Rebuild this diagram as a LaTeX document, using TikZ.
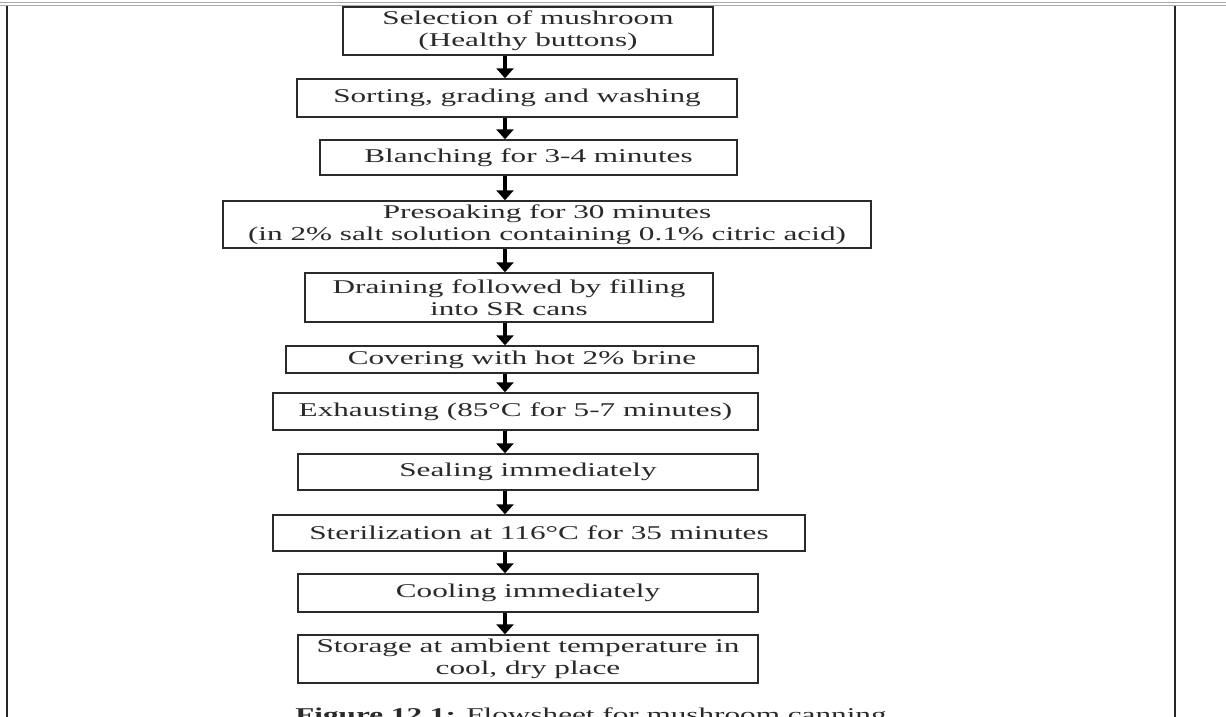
\documentclass[tikz,border=0pt]{standalone}
\usepackage{fontspec}
\setmainfont{Liberation Serif}[FakeStretch=1.6]
\usetikzlibrary{arrows.meta}
\definecolor{inkgray}{HTML}{2A2A2A}
\definecolor{framegray}{HTML}{A8A8A8}
\tikzset{
  stepbox/.style={draw=inkgray, line width=1.4pt, inner sep=0pt, align=center,
    text=inkgray, font=\fontsize{19.5}{22}\selectfont},
  flowarrow/.style={draw=black, line width=3.4pt,
    -{Triangle[width=17pt,length=10pt]}, shorten >=0pt},
  framerule/.style={line width=2.4pt, draw=black!85}
}
\begin{document}
\begin{tikzpicture}[x=1pt,y=1pt]
  \useasboundingbox (0,0) rectangle (1226,-717);
  \clip (0,0) rectangle (1226,-717);
  \fill[white] (0,0) rectangle (1226,-717);

  % page frame
  \draw[framegray, line width=1pt] (0,-3) -- (1226,-3);
  \draw[framegray, line width=1pt] (0,-6) -- (1226,-6);
  \draw[framerule] (7,-6) -- (7,-717);
  \draw[framerule] (1175,-6) -- (1175,-717);

  % process steps
  \node[stepbox, minimum width=370pt, minimum height=48pt] (s1) at (528,-31)
    {Selection of mushroom\\(Healthy buttons)};
  \node[stepbox, minimum width=440pt, minimum height=38pt] (s2) at (517,-98)
    {Sorting, grading and washing};
  \node[stepbox, minimum width=417pt, minimum height=35pt] (s3) at (528.5,-157.5)
    {Blanching for 3-4 minutes};
  \node[stepbox, minimum width=648pt, minimum height=47pt] (s4) at (547,-224.5)
    {Presoaking for 30 minutes\\(in 2\% salt solution containing 0.1\% citric acid)};
  \node[stepbox, minimum width=408pt, minimum height=49pt] (s5) at (509,-297.5)
    {Draining followed by filling\\into SR cans};
  \node[stepbox, minimum width=472pt, minimum height=27pt] (s6) at (522,-359.5)
    {Covering with hot 2\% brine};
  \node[stepbox, minimum width=485pt, minimum height=37pt] (s7) at (515.5,-411.5)
    {Exhausting (85°C for 5-7 minutes)};
  \node[stepbox, minimum width=460pt, minimum height=36pt] (s8) at (528,-472)
    {Sealing immediately};
  \node[stepbox, minimum width=532pt, minimum height=36pt] (s9) at (539,-533)
    {Sterilization at 116°C for 35 minutes};
  \node[stepbox, minimum width=460pt, minimum height=38pt] (s10) at (528,-593)
    {Cooling immediately};
  \node[stepbox, minimum width=460pt, minimum height=48pt] (s11) at (528,-659)
    {Storage at ambient temperature in\\cool, dry place};

  % arrows run down a common axis
  \coordinate (ax) at (505,0);
  \foreach \a/\b in {s1/s2,s2/s3,s3/s4,s4/s5,s5/s6,s6/s7,s7/s8,s8/s9,s9/s10,s10/s11}
    \draw[flowarrow] (\a.south -| ax) -- (\b.north -| ax);

  % caption, running past the lower edge
  \node[anchor=base, inner sep=0pt, text=inkgray, font=\fontsize{19.5}{22}\selectfont]
    (cap) at (591,-721) {\textbf{Figure 12.1:} Flowsheet for mushroom canning};
\end{tikzpicture}
\end{document}
